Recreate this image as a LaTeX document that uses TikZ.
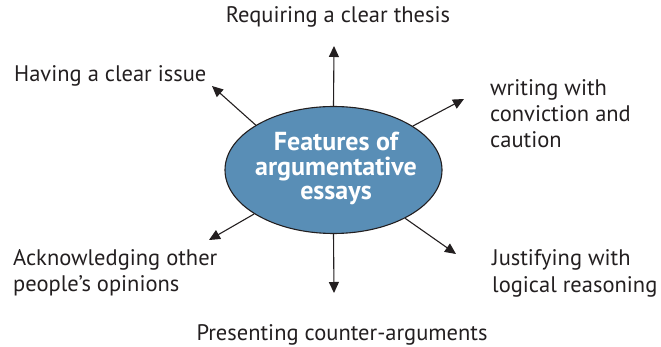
\documentclass[tikz,border=0pt]{standalone}
\usepackage{fontspec}
\setmainfont{PT Sans}
\usetikzlibrary{shapes.geometric,arrows.meta}
\definecolor{hubblue}{RGB}{89,142,182}
\definecolor{ink}{RGB}{35,31,32}
\tikzset{
  hub/.style={ellipse, draw=ink, line width=1.1pt, fill=hubblue,
    minimum width=217pt, minimum height=127pt, inner sep=0pt},
  hubtext/.style={text=white, font=\fontsize{26}{24.5}\selectfont\bfseries, align=center, inner sep=0pt},
  feature/.style={text=ink, font=\fontsize{22.5}{26}\selectfont, align=left, inner sep=0pt},
  spoke/.style={draw=ink, line width=1.1pt, -{Triangle[length=11pt,width=10pt]}}
}
\begin{document}
\begin{tikzpicture}[x=1pt,y=-1pt]
  \useasboundingbox (0,0) rectangle (661,347);
  % central ellipse and its title (base anchor = last line)
  \node[hub] (e) at (333.5,170) {};
  \node[hubtext, anchor=base] (t) at (336,200) {Features of\\argumentative\\essays};
  % the six features (multi-line nodes anchored at their last baseline)
  \node[feature, anchor=base] (n) at (338,23) {Requiring a clear thesis};
  \node[feature, anchor=base west] (nw) at (14,82) {Having a clear issue};
  \node[feature, anchor=base west] (ne) at (490,148) {writing with\\conviction and\\caution};
  \node[feature, anchor=base west] (sw) at (13,291) {Acknowledging other\\people’s opinions};
  \node[feature, anchor=base west] (se) at (492,292) {Justifying with\\logical reasoning};
  \node[feature, anchor=base] (s) at (342,340) {Presenting counter-arguments};
  % arrow tips
  \coordinate (pn) at (334,46);
  \coordinate (pnw) at (212,86);
  \coordinate (pne) at (464,99);
  \coordinate (psw) at (209,240);
  \coordinate (pse) at (456,254);
  \coordinate (ps) at (334,293);
  % spokes
  \draw[spoke] (e.north) -- (pn);
  \draw[spoke] (e.150) -- (pnw);
  \draw[spoke] (e.29) -- (pne);
  \draw[spoke] (e.209) -- (psw);
  \draw[spoke] (e.326) -- (pse);
  \draw[spoke] (e.south) -- (ps);
\end{tikzpicture}
\end{document}
